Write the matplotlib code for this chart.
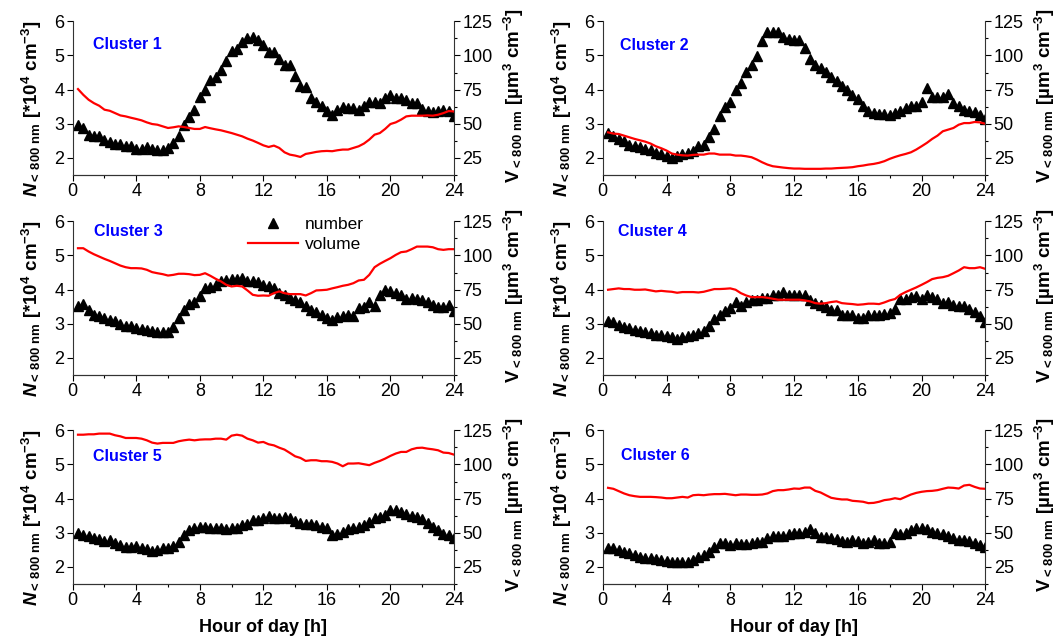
import matplotlib.pyplot as plt
import numpy as np
from matplotlib.lines import Line2D
from matplotlib.ticker import MultipleLocator

plt.rcParams['font.family'] = 'Liberation Sans'
plt.rcParams['mathtext.fontset'] = 'custom'
plt.rcParams['mathtext.rm'] = 'Liberation Sans:bold'
plt.rcParams['mathtext.bf'] = 'Liberation Sans:bold'
plt.rcParams['mathtext.it'] = 'Liberation Sans:bold:italic'

# 20-minute averages over the day
hours = np.arange(1, 73) / 3

num1 = [2.97, 2.88, 2.66, 2.63, 2.63, 2.53, 2.46, 2.42, 2.42, 2.36, 2.34, 2.26,
        2.26, 2.33, 2.26, 2.24, 2.22, 2.29, 2.44, 2.65, 2.97, 3.20, 3.41, 3.78,
        4.00, 4.29, 4.36, 4.58, 4.85, 5.14, 5.18, 5.40, 5.50, 5.55, 5.44, 5.31,
        5.11, 5.11, 4.89, 4.72, 4.72, 4.40, 4.11, 4.09, 3.75, 3.65, 3.51, 3.36,
        3.27, 3.41, 3.50, 3.46, 3.46, 3.41, 3.53, 3.65, 3.65, 3.62, 3.75, 3.83,
        3.75, 3.75, 3.70, 3.60, 3.60, 3.43, 3.36, 3.33, 3.36, 3.41, 3.36, 3.24]
vol1 = [75.4, 71.2, 67.6, 65.1, 63.2, 60.3, 59.5, 57.8, 56.1, 55.4, 54.4, 53.5,
        52.5, 51.0, 49.8, 49.3, 48.1, 46.9, 47.4, 48.1, 47.6, 46.9, 46.2, 46.2,
        47.6, 46.7, 45.9, 45.2, 44.2, 43.2, 42.0, 40.8, 39.1, 37.7, 36.0, 34.2,
        33.0, 34.0, 32.3, 29.1, 27.4, 26.7, 25.7, 27.9, 28.6, 29.4, 29.9, 30.1,
        29.9, 30.6, 31.1, 31.1, 32.3, 33.5, 35.5, 38.4, 42.0, 43.2, 46.2, 49.8,
        51.0, 53.0, 55.4, 55.9, 55.9, 55.9, 56.1, 55.9, 56.6, 57.8, 59.3, 59.0]

num2 = [2.73, 2.63, 2.55, 2.49, 2.39, 2.36, 2.31, 2.26, 2.24, 2.15, 2.10, 2.05,
        2.00, 2.05, 2.10, 2.15, 2.19, 2.34, 2.39, 2.61, 2.85, 3.22, 3.48, 3.65,
        3.99, 4.19, 4.53, 4.72, 4.99, 5.41, 5.68, 5.70, 5.70, 5.55, 5.47, 5.46,
        5.46, 5.21, 4.89, 4.72, 4.63, 4.53, 4.38, 4.24, 4.11, 3.99, 3.85, 3.72,
        3.51, 3.36, 3.31, 3.29, 3.28, 3.27, 3.31, 3.38, 3.46, 3.51, 3.51, 3.65,
        4.04, 3.77, 3.77, 3.77, 3.87, 3.61, 3.51, 3.41, 3.36, 3.33, 3.27, 3.14]
vol2 = [43.7, 42.8, 42.5, 41.3, 40.1, 38.9, 37.9, 36.9, 35.5, 33.5, 32.1, 30.4,
        28.2, 27.4, 26.9, 26.7, 27.2, 27.4, 27.4, 28.2, 28.2, 27.4, 27.4, 27.4,
        26.7, 26.7, 26.2, 25.5, 23.8, 21.8, 20.1, 18.9, 18.4, 17.9, 17.5, 17.2,
        17.2, 17.0, 17.0, 17.0, 17.0, 17.2, 17.2, 17.5, 17.7, 17.9, 18.2, 18.9,
        19.4, 20.1, 20.6, 21.4, 22.6, 24.3, 25.7, 26.9, 27.9, 29.1, 31.1, 33.5,
        36.0, 38.9, 41.3, 44.5, 45.7, 46.9, 49.3, 50.5, 50.5, 51.3, 51.0, 50.0]

num3 = [3.53, 3.59, 3.41, 3.27, 3.24, 3.17, 3.12, 3.07, 3.00, 2.92, 2.94, 2.88,
        2.85, 2.83, 2.78, 2.75, 2.76, 2.76, 2.91, 3.17, 3.39, 3.58, 3.65, 3.80,
        4.04, 4.07, 4.14, 4.24, 4.29, 4.32, 4.32, 4.34, 4.24, 4.24, 4.21, 4.14,
        4.12, 4.04, 3.90, 3.85, 3.75, 3.70, 3.63, 3.53, 3.41, 3.33, 3.25, 3.17,
        3.12, 3.20, 3.24, 3.25, 3.24, 3.46, 3.49, 3.63, 3.53, 3.85, 4.00, 3.95,
        3.90, 3.85, 3.72, 3.75, 3.73, 3.70, 3.63, 3.56, 3.49, 3.49, 3.56, 3.36]
vol3 = [105.3, 105.3, 102.9, 100.9, 99.2, 97.5, 96.0, 94.3, 92.6, 91.4, 90.7, 90.7,
        90.5, 89.5, 87.8, 87.0, 86.3, 85.3, 85.8, 86.6, 86.6, 86.3, 85.6, 85.8,
        87.0, 85.1, 82.9, 81.0, 78.5, 77.3, 77.8, 77.3, 74.4, 71.2, 70.5, 70.7,
        70.5, 72.4, 73.7, 72.4, 71.7, 71.7, 71.7, 70.7, 72.4, 74.4, 74.6, 74.9,
        75.9, 76.8, 77.8, 78.5, 79.7, 81.7, 82.2, 85.8, 91.4, 93.9, 96.0, 98.0,
        100.4, 102.4, 102.9, 104.6, 106.5, 106.5, 106.5, 106.0, 104.6, 104.1, 104.6, 104.6]

num4 = [3.07, 3.04, 2.97, 2.90, 2.88, 2.81, 2.78, 2.75, 2.73, 2.68, 2.68, 2.65,
        2.61, 2.55, 2.60, 2.63, 2.68, 2.73, 2.78, 2.94, 3.15, 3.27, 3.36, 3.46,
        3.63, 3.53, 3.63, 3.70, 3.70, 3.75, 3.75, 3.85, 3.85, 3.92, 3.85, 3.83,
        3.85, 3.83, 3.70, 3.61, 3.56, 3.49, 3.41, 3.41, 3.27, 3.27, 3.27, 3.17,
        3.17, 3.27, 3.27, 3.27, 3.28, 3.31, 3.43, 3.72, 3.72, 3.77, 3.82, 3.72,
        3.85, 3.77, 3.72, 3.61, 3.65, 3.56, 3.51, 3.51, 3.43, 3.33, 3.22, 3.04]
vol4 = [74.9, 75.4, 75.9, 75.4, 75.4, 74.9, 74.9, 75.1, 74.4, 73.7, 74.1, 73.7,
        73.4, 72.7, 73.2, 73.2, 73.2, 72.9, 73.4, 74.4, 75.4, 75.4, 75.6, 75.9,
        74.9, 72.4, 70.7, 69.5, 69.5, 69.5, 69.0, 68.3, 67.6, 67.6, 67.6, 67.6,
        67.6, 67.1, 66.4, 65.1, 64.7, 65.1, 65.9, 66.4, 65.1, 64.7, 64.4, 63.9,
        64.2, 64.7, 64.7, 64.4, 65.6, 67.1, 68.1, 71.2, 73.2, 74.9, 76.6, 78.5,
        80.5, 82.7, 83.6, 84.1, 85.1, 87.0, 89.0, 91.4, 90.7, 90.7, 91.4, 90.2]

num5 = [2.98, 2.93, 2.90, 2.84, 2.81, 2.76, 2.79, 2.71, 2.64, 2.59, 2.59, 2.61,
        2.56, 2.52, 2.47, 2.50, 2.55, 2.56, 2.61, 2.74, 2.93, 3.08, 3.13, 3.16,
        3.18, 3.13, 3.15, 3.15, 3.10, 3.13, 3.13, 3.23, 3.25, 3.37, 3.37, 3.42,
        3.49, 3.42, 3.44, 3.45, 3.42, 3.35, 3.30, 3.25, 3.25, 3.23, 3.18, 3.13,
        2.93, 2.96, 3.03, 3.10, 3.13, 3.16, 3.23, 3.32, 3.42, 3.45, 3.52, 3.66,
        3.68, 3.62, 3.55, 3.49, 3.45, 3.39, 3.29, 3.18, 3.08, 2.96, 2.93, 2.84]
vol5 = [121.8, 121.8, 122.1, 122.1, 122.6, 122.6, 122.6, 121.4, 120.6, 119.4, 119.4, 119.4,
        118.9, 117.7, 116.0, 115.3, 115.8, 115.8, 115.8, 117.0, 117.7, 118.2, 117.7, 118.2,
        118.4, 118.4, 118.9, 118.9, 118.2, 121.1, 121.8, 121.1, 118.9, 117.7, 116.0, 116.5,
        114.8, 114.0, 112.3, 110.9, 108.5, 106.0, 104.8, 102.6, 103.1, 103.1, 102.4, 102.4,
        101.9, 100.7, 98.7, 100.7, 100.7, 100.9, 100.2, 99.5, 101.2, 102.6, 104.3, 106.3,
        108.0, 109.2, 109.2, 111.1, 112.1, 112.3, 111.6, 111.1, 110.4, 108.7, 108.4, 107.2]

num6 = [2.56, 2.55, 2.50, 2.45, 2.42, 2.35, 2.30, 2.27, 2.25, 2.23, 2.20, 2.18,
        2.14, 2.13, 2.13, 2.13, 2.20, 2.30, 2.35, 2.45, 2.59, 2.71, 2.69, 2.64,
        2.69, 2.66, 2.67, 2.71, 2.74, 2.72, 2.84, 2.91, 2.91, 2.91, 2.96, 3.00,
        3.00, 3.03, 3.10, 2.98, 2.89, 2.87, 2.86, 2.81, 2.76, 2.74, 2.79, 2.76,
        2.71, 2.74, 2.79, 2.69, 2.69, 2.74, 2.98, 2.96, 3.00, 3.08, 3.13, 3.13,
        3.10, 3.03, 3.00, 2.96, 2.91, 2.84, 2.79, 2.79, 2.76, 2.71, 2.64, 2.59]
vol6 = [82.9, 82.2, 80.5, 78.8, 77.5, 76.8, 76.3, 76.3, 76.3, 76.1, 75.8, 75.3,
        75.3, 75.8, 76.3, 75.8, 77.5, 77.8, 77.5, 78.0, 78.3, 78.3, 78.5, 78.0,
        77.5, 78.0, 78.0, 77.8, 77.8, 78.0, 78.8, 80.5, 81.2, 81.2, 81.7, 82.4,
        82.2, 83.1, 83.1, 80.7, 79.5, 77.5, 75.6, 74.9, 74.4, 74.4, 73.4, 73.1,
        72.7, 71.7, 71.9, 72.7, 73.9, 74.4, 75.3, 74.6, 76.3, 78.0, 79.2, 80.0,
        80.5, 80.7, 81.2, 82.2, 83.1, 82.9, 82.4, 84.6, 85.1, 83.6, 82.4, 82.2]

numbers = [num1, num2, num3, num4, num5, num6]
volumes = [vol1, vol2, vol3, vol4, vol5, vol6]
names = ['Cluster 1', 'Cluster 2', 'Cluster 3', 'Cluster 4', 'Cluster 5', 'Cluster 6']
name_pos = [(1.28, 5.33), (1.09, 5.29), (1.36, 5.70), (0.98, 5.70), (1.26, 5.22), (1.13, 5.27)]

# panel boxes in figure fractions [left, bottom, width, height]
lefts = [0.0687, 0.5697]
bottoms = [0.7266, 0.4141, 0.0875]
w = [0.3604, 0.3616]
h = 0.2401

fig = plt.figure(figsize=(10.58, 6.4), dpi=100)

nlabel = r'$N_{<\,800\ \mathrm{nm}}$ [*10$^4$ cm$^{-3}$]'
vlabel = r'$\mathrm{V}_{<\,800\ \mathrm{nm}}$ [µm$^3$ cm$^{-3}$]'

for i in range(6):
    row, col = i // 2, i % 2
    ax = fig.add_axes([lefts[col], bottoms[row], w[col], h])
    ax2 = ax.twinx()

    ax.plot(hours, numbers[i], linestyle='none', marker='^', color='black', ms=6.8)
    ax2.plot(hours, volumes[i], color='red', lw=1.6)

    ax.set_xlim(0, 24)
    ax.set_ylim(1.5, 6)
    ax2.set_ylim(12.5, 125)
    ax.set_xticks(range(0, 25, 4))
    ax.xaxis.set_minor_locator(MultipleLocator(2))
    ax.set_yticks([2, 3, 4, 5, 6])
    ax2.set_yticks([25, 50, 75, 100, 125])
    ax2.yaxis.set_minor_locator(MultipleLocator(12.5))

    for a in (ax, ax2):
        a.spines['top'].set_visible(False)
        for s in a.spines.values():
            s.set_linewidth(0.8)
            s.set_color('#333333')
        a.tick_params(labelsize=13, direction='out', length=4, width=0.8, pad=2)
        a.tick_params(which='minor', direction='out', length=2.5, width=0.8)
    ax.spines['right'].set_visible(False)
    ax2.spines['left'].set_visible(False)

    ax.set_ylabel(nlabel, fontsize=13.5, fontweight='bold')
    ax2.set_ylabel(vlabel, fontsize=13.5, fontweight='bold')
    ax.yaxis.set_label_coords(-0.075, 0.43)
    ax2.yaxis.set_label_coords(1.125, 0.52)

    ax.text(name_pos[i][0], name_pos[i][1], names[i], color='#0000ff',
            fontsize=11.5, fontweight='bold', ha='left', va='center')

    if row == 2:
        ax.set_xlabel('Hour of day [h]', fontsize=13, fontweight='bold', labelpad=7)

    if i == 2:
        handles = [Line2D([], [], linestyle='none', marker='^', color='black', ms=6.8),
                   Line2D([], [], color='red', lw=1.6)]
        ax2.legend(handles, ['number', 'volume'], loc='upper left',
                   bbox_to_anchor=(0.46, 1.03), frameon=False, fontsize=12.5,
                   handlelength=2.9, handletextpad=0.35, labelspacing=0.27,
                   borderpad=0, borderaxespad=0)

fig.savefig('out.png', dpi=100)
